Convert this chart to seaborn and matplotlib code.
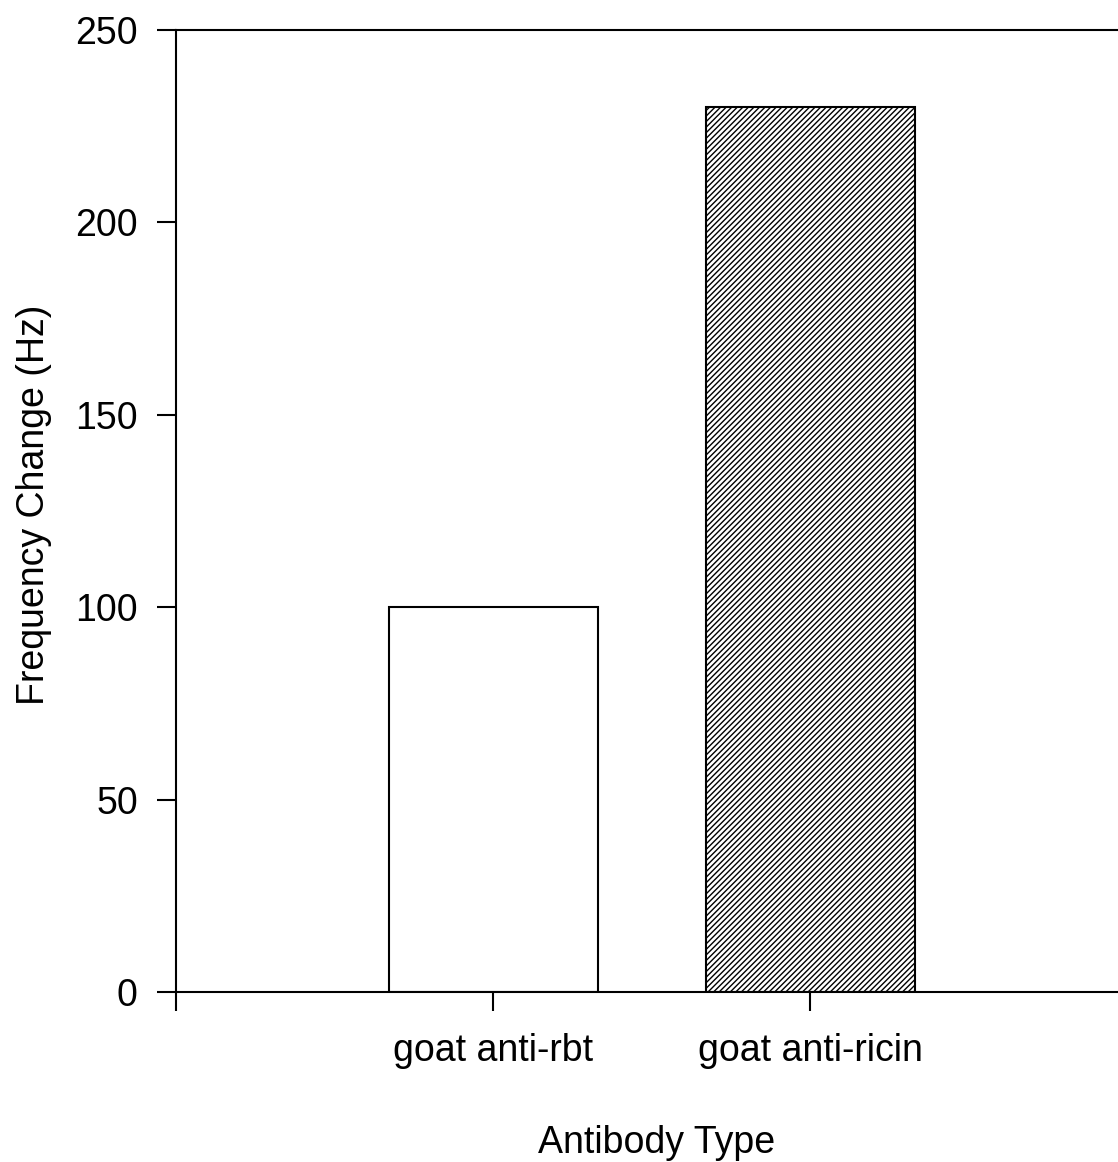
import matplotlib
matplotlib.use("Agg")
import matplotlib.pyplot as plt
import seaborn as sns
import pandas as pd

antibodies = ["goat anti-rbt", "goat anti-ricin"]
freq_change = [100, 230]
y_ticks = [0, 50, 100, 150, 200, 250]

sns.set_theme(style="white")
plt.rcParams["font.family"] = ["Liberation Sans", "DejaVu Sans"]
plt.rcParams["hatch.linewidth"] = 1.0

df = pd.DataFrame({"Antibody": antibodies, "Freq": freq_change})

fig = plt.figure(figsize=(11.18, 11.62), dpi=100)
ax = fig.add_axes([176 / 1118, 170 / 1162, 1 - 176 / 1118, (992 - 30) / 1162])

sns.barplot(data=df, x="Antibody", y="Freq", ax=ax, width=0.66,
            color="white", edgecolor="black", linewidth=1.5, saturation=1)
ax.patches[1].set_hatch("//////")

ax.set_xlim(-1, 1.97)
ax.set_ylim(0, 250)
ax.set_yticks(y_ticks)
ax.set_xticks([-1, 0, 1])
ax.set_xticklabels([""] + antibodies)

for side in ["left", "bottom", "top"]:
    ax.spines[side].set_visible(True)
    ax.spines[side].set_color("black")
    ax.spines[side].set_linewidth(1.5)
ax.spines["right"].set_visible(False)

ax.tick_params(axis="both", direction="out", length=13.5, width=1.5,
               colors="black", labelsize=27, labelcolor="black",
               left=True, bottom=True, right=False, top=False)
ax.tick_params(axis="y", pad=14)
ax.tick_params(axis="x", pad=16)

ax.set_xlabel("Antibody Type", fontsize=27, labelpad=40, color="black")
ax.set_ylabel("Frequency Change (Hz)", fontsize=27, labelpad=17, color="black")
ax.xaxis.label.set_x(0.51)
ax.yaxis.label.set_y(0.506)

fig.savefig("out.png", dpi=100)
